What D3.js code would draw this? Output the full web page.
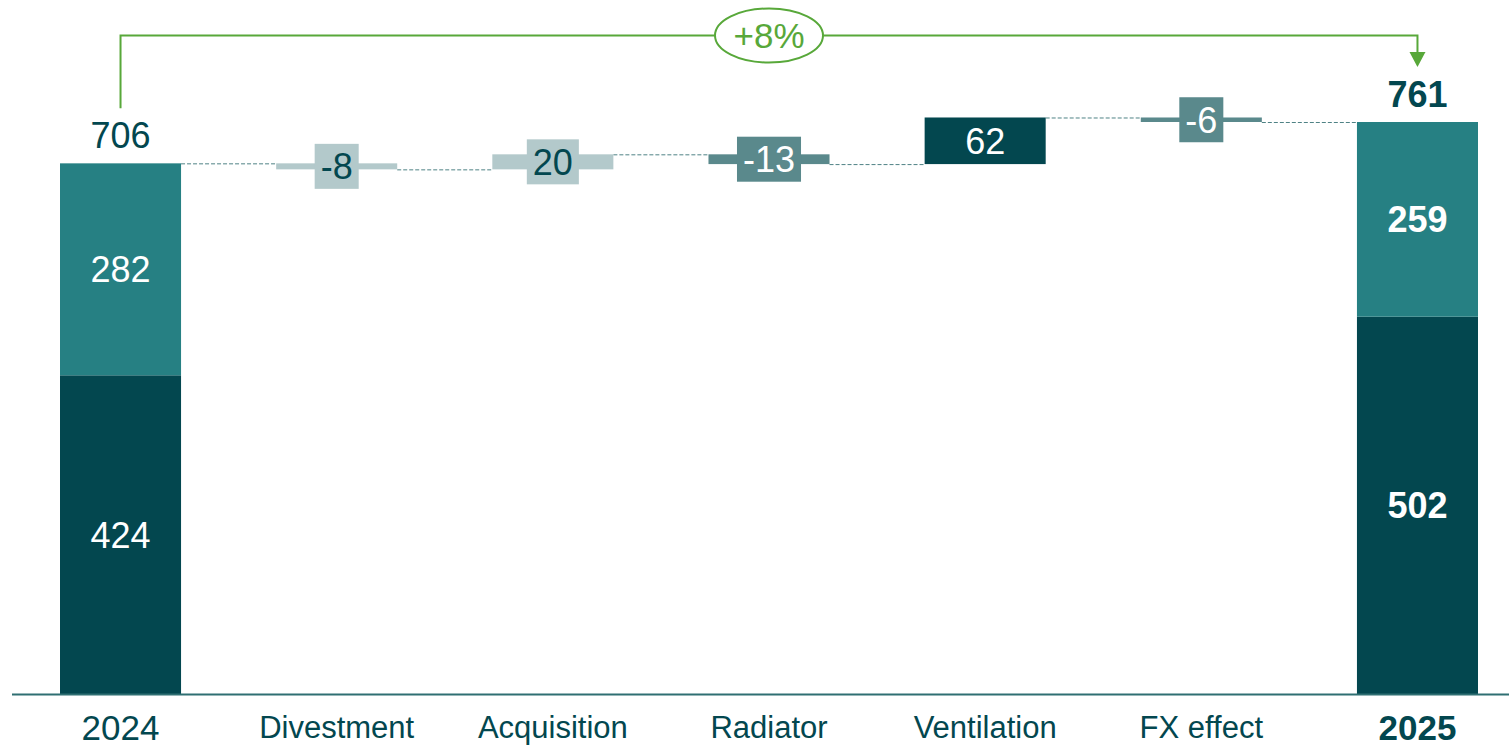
<!DOCTYPE html>
<html>
<head>
<meta charset="utf-8">
<script src="https://cdn.jsdelivr.net/npm/d3@7"></script>
<style>
  html, body { margin: 0; padding: 0; background: #ffffff; }
  svg { display: block; font-family: "Liberation Sans", Arial, sans-serif; }
</style>
</head>
<body>
<svg id="chart" width="1509" height="748"></svg>
<script>
// ---- data ----
const categories = ["2024", "Divestment", "Acquisition", "Radiator", "Ventilation", "FX effect", "2025"];
const totalLower = [424, null, null, null, null, null, 502];   // dark segment
const totalUpper = [282, null, null, null, null, null, 259];   // teal segment
const deltas     = [null, -8, 20, -13, 62, -6, null];
const deltaTone  = [null, "light", "light", "mid", "dark", "mid", null];
const growthLabel = "+8%";

// ---- styles ----
const C = {
  dark: "#03474f",
  teal: "#268083",
  light: "#b3c9cb",
  mid: "#5a898c",
  green: "#58a83a",
  axis: "#2f6f72",
  conn: "#4f8285"
};
const toneFill = { light: C.light, mid: C.mid, dark: C.dark };
const toneText = { light: C.dark, mid: "#ffffff", dark: "#ffffff" };

const svg = d3.select("#chart");
const x = d3.scaleBand().domain(categories).range([60, 1478]).paddingInner(0.44).paddingOuter(0);
const y = d3.scaleLinear().domain([0, 761]).range([694, 122]);
const bw = x.bandwidth();
const cx = c => x(c) + bw / 2;

// running totals
const steps = [];
let running = 0;
categories.forEach((c, i) => {
  if (totalLower[i] != null) {
    const tot = totalLower[i] + totalUpper[i];
    steps.push({ c, i, type: "total", start: 0, end: tot });
    running = tot;
  } else {
    const s = running, e = running + deltas[i];
    steps.push({ c, i, type: "delta", start: s, end: e });
    running = e;
  }
});

// connectors
for (let k = 0; k < steps.length - 1; k++) {
  const a = steps[k], b = steps[k + 1];
  const level = a.end;
  svg.append("line")
    .attr("x1", x(a.c) + bw).attr("x2", x(b.c))
    .attr("y1", y(level) + 0.5).attr("y2", y(level) + 0.5)
    .attr("stroke", C.conn).attr("stroke-width", 1).attr("stroke-dasharray", "4,2");
}

// totals
steps.filter(s => s.type === "total").forEach(s => {
  const lo = totalLower[s.i], up = totalUpper[s.i];
  const bold = s.c === "2025";
  svg.append("rect").attr("x", x(s.c)).attr("width", bw)
    .attr("y", y(lo)).attr("height", y(0) - y(lo)).attr("fill", C.dark);
  svg.append("rect").attr("x", x(s.c)).attr("width", bw)
    .attr("y", y(lo + up)).attr("height", y(lo) - y(lo + up)).attr("fill", C.teal);
  svg.append("text").attr("x", cx(s.c)).attr("y", (y(lo) + y(0)) / 2)
    .attr("dy", "0.36em").attr("text-anchor", "middle").attr("font-size", 36)
    .attr("font-weight", bold ? "bold" : "normal").attr("fill", "#ffffff").text(lo);
  svg.append("text").attr("x", cx(s.c)).attr("y", (y(lo + up) + y(lo)) / 2)
    .attr("dy", "0.36em").attr("text-anchor", "middle").attr("font-size", 36)
    .attr("font-weight", bold ? "bold" : "normal").attr("fill", "#ffffff").text(up);
  svg.append("text").attr("x", cx(s.c)).attr("y", y(lo + up) - 15)
    .attr("text-anchor", "middle").attr("font-size", 36)
    .attr("font-weight", bold ? "bold" : "normal").attr("fill", C.dark).text(lo + up);
});

// deltas
steps.filter(s => s.type === "delta").forEach(s => {
  const tone = deltaTone[s.i];
  const top = y(Math.max(s.start, s.end)), bot = y(Math.min(s.start, s.end));
  svg.append("rect").attr("x", x(s.c)).attr("width", bw)
    .attr("y", top).attr("height", bot - top).attr("fill", toneFill[tone]);
  const mid = (top + bot) / 2;
  const label = String(deltas[s.i]);
  const t = svg.append("text").attr("x", cx(s.c)).attr("y", mid)
    .attr("dy", "0.36em").attr("text-anchor", "middle").attr("font-size", 36)
    .attr("fill", toneText[tone]).text(label);
  if (tone !== "dark") {
    const w = t.node().getComputedTextLength() + 12;
    svg.insert("rect", () => t.node())
      .attr("x", cx(s.c) - w / 2).attr("width", w)
      .attr("y", mid - 22.5).attr("height", 45).attr("fill", toneFill[tone]);
  }
});

// baseline
svg.append("line").attr("x1", 12).attr("x2", 1509).attr("y1", y(0) + 0.5).attr("y2", y(0) + 0.5)
  .attr("stroke", C.axis).attr("stroke-width", 2);

// category labels
categories.forEach((c, i) => {
  const isYear = totalLower[i] != null;
  svg.append("text").attr("x", cx(c)).attr("y", isYear ? 740 : 738)
    .attr("text-anchor", "middle").attr("font-size", isYear ? 35 : 31)
    .attr("font-weight", c === "2025" ? "bold" : "normal")
    .attr("fill", C.dark).text(c);
});

// growth bracket
const gy = 35.5;
const x0 = cx(categories[0]), x1 = cx(categories[categories.length - 1]);
const first = steps[0].end, last = steps[steps.length - 1].end;
svg.append("path")
  .attr("d", `M${x0},${y(first) - 55} V${gy} H${x1} V${y(last) - 70}`)
  .attr("fill", "none").attr("stroke", C.green).attr("stroke-width", 2);
const tipY = y(last) - 55;
svg.append("path")
  .attr("d", `M${x1 - 8},${tipY - 15} L${x1 + 8},${tipY - 15} L${x1},${tipY} Z`)
  .attr("fill", C.green);
const ex = (x0 + x1) / 2;
svg.append("ellipse").attr("cx", ex).attr("cy", gy).attr("rx", 54).attr("ry", 27)
  .attr("fill", "#ffffff").attr("stroke", C.green).attr("stroke-width", 2);
svg.append("text").attr("x", ex).attr("y", gy).attr("dy", "0.36em")
  .attr("text-anchor", "middle").attr("font-size", 35).attr("fill", C.green).text(growthLabel);
</script>
</body>
</html>
